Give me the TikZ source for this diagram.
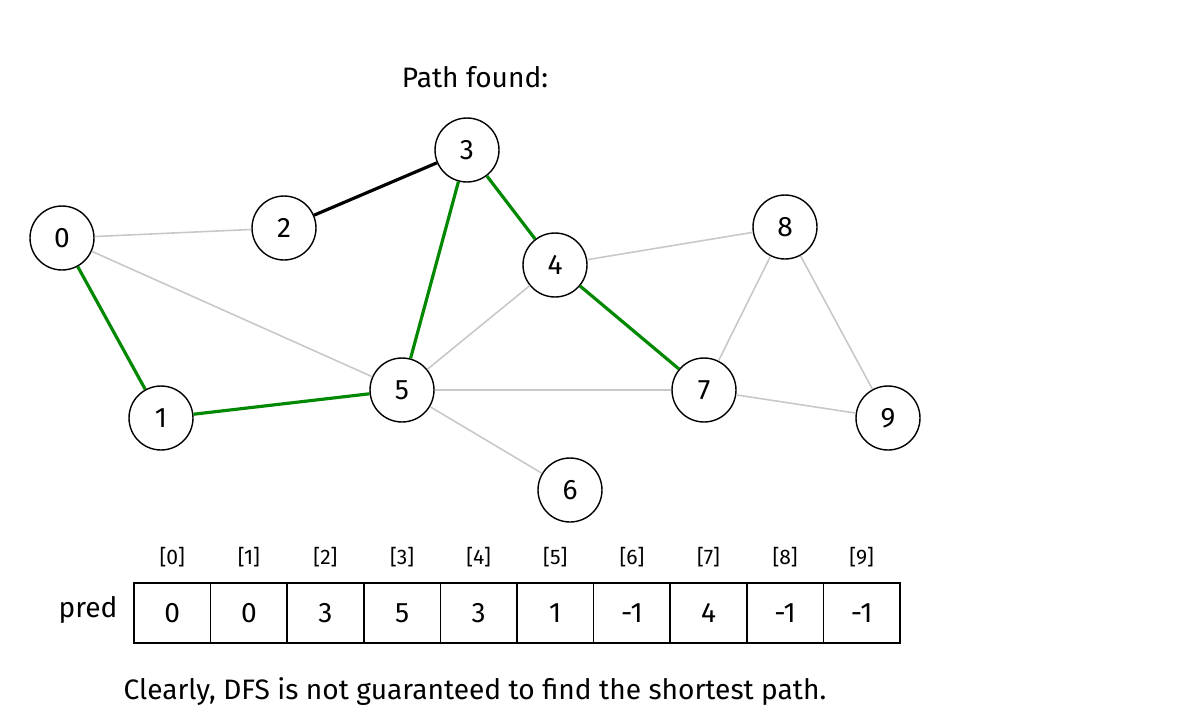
\documentclass[tikz,border=0pt]{standalone}
\usepackage{fontspec}
\setmainfont{Fira Sans}
\usetikzlibrary{arrows.meta}
\definecolor{pathgreen}{RGB}{0,136,0}
\begin{document}
\begin{tikzpicture}[x=0.02cm,y=-0.02cm]
  \tikzstyle{vertex}=[circle,draw,thick,minimum size=1.28cm,inner sep=0pt,font=\fontsize{16}{18}\selectfont]
  \tikzstyle{plain edge}=[draw={rgb,255:red,200;green,200;blue,200},line width=0.9pt]
  \tikzstyle{tree edge}=[draw=pathgreen,line width=1.8pt]
  \tikzstyle{cell}=[draw,thick,minimum width=1.532cm,minimum height=1.2cm,inner sep=0pt,font=\fontsize{16}{18}\selectfont]
  \useasboundingbox (0,0) rectangle (1203,714);
  \node [font=\fontsize{16}{18}\selectfont] (title) at (475,77) {Path found:};
  % vertices
  \node [vertex] (v0) at (62,238) {0};
  \node [vertex] (v1) at (161,418) {1};
  \node [vertex] (v2) at (284,228) {2};
  \node [vertex] (v3) at (467,150) {3};
  \node [vertex] (v4) at (555,265) {4};
  \node [vertex] (v5) at (402,390) {5};
  \node [vertex] (v6) at (570,490) {6};
  \node [vertex] (v7) at (704,390) {7};
  \node [vertex] (v8) at (785,227) {8};
  \node [vertex] (v9) at (888,418) {9};
  % edges
  \foreach \a/\b in {0/2,0/5,4/5,4/8,5/7,5/6,7/8,8/9,7/9}
    \path [plain edge] (v\a) -- (v\b);
  \draw [line width=1.8pt] (v2) -- (v3);
  \foreach \a/\b in {0/1,1/5,3/5,3/4,4/7}
    \path [tree edge] (v\a) -- (v\b);
  % pred array
  \node [font=\fontsize{16}{18}\selectfont] (pred) at (88,610) {pred};
  \foreach \v [count=\i from 0] in {0,0,3,5,3,1,-1,4,-1,-1} {
    \node [cell] (c\i) at (172.3+76.6*\i,613) {\v};
    \node [font=\fontsize{12}{14}\selectfont] (i\i) at (172.3+76.6*\i,557) {[\i]};
  }
  \node [font=\fontsize{16}{18}\selectfont] (note) at (475,692) {Clearly, DFS is not guaranteed to find the shortest path.};
\end{tikzpicture}
\end{document}
